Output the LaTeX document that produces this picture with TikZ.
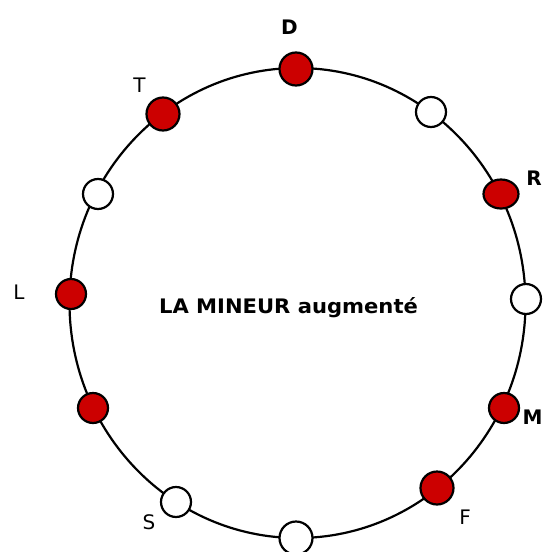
\documentclass[tikz,border=0pt]{standalone}
\usepackage{fontspec}
\setmainfont{DejaVu Sans}
\usetikzlibrary{shapes.geometric}
\definecolor{dotred}{RGB}{204,0,0}
\tikzset{
  dotbase/.style={circle, draw=black, line width=2.2pt, inner sep=0pt},
  reddot/.style={dotbase, fill=dotred, minimum size=30pt},
  bigreddot/.style={dotbase, fill=dotred, minimum size=33pt},
  whitedot/.style={dotbase, fill=white, minimum size=30pt},
  bigwhitedot/.style={dotbase, fill=white, minimum size=33pt},
  lbl/.style={font=\fontsize{20}{20}\selectfont, inner sep=0pt},
  lblb/.style={font=\fontsize{20}{20}\selectfont\bfseries, inner sep=0pt},
}
\begin{document}
\begin{tikzpicture}[x=1pt, y=-1pt]
\useasboundingbox (0,0) rectangle (544,552);
\draw[line width=2.2pt] (297.5,303) ellipse [x radius=228, y radius=235];
% dots
\node[bigreddot] (d) at (296,69) {};
\node[whitedot] (w1) at (431,112) {};
\node[dotbase, fill=dotred, ellipse, minimum width=35pt, minimum height=29pt] (r) at (501,194) {};
\node[whitedot] (w2) at (526,299) {};
\node[reddot] (m) at (504,408) {};
\node[bigreddot] (f) at (437,488) {};
\node[bigwhitedot] (w3) at (296,538) {};
\node[whitedot] (s) at (176,502) {};
\node[reddot] (r2) at (93,408) {};
\node[reddot] (l) at (71,294) {};
\node[whitedot] (w4) at (98,194) {};
\node[bigreddot] (t) at (163,114) {};
% labels
\node[lblb] (ld) at (289.5,27) {D};
\node[lbl] (lt) at (139.5,85) {T};
\node[lblb] (lr) at (534,178.5) {R};
\node[lbl] (ll) at (19,292) {L};
\node[lbl] (ls) at (149,522.5) {S};
\node[lblb] (lm) at (532.5,417.5) {M};
\node[lbl] (lf) at (465,517.5) {F};
\node[inner sep=0pt] (title) at (288.5,308) {\fontsize{20}{20}\selectfont\bfseries\scalebox{1.055}[1]{LA MINEUR augmenté}};
\end{tikzpicture}
\end{document}
